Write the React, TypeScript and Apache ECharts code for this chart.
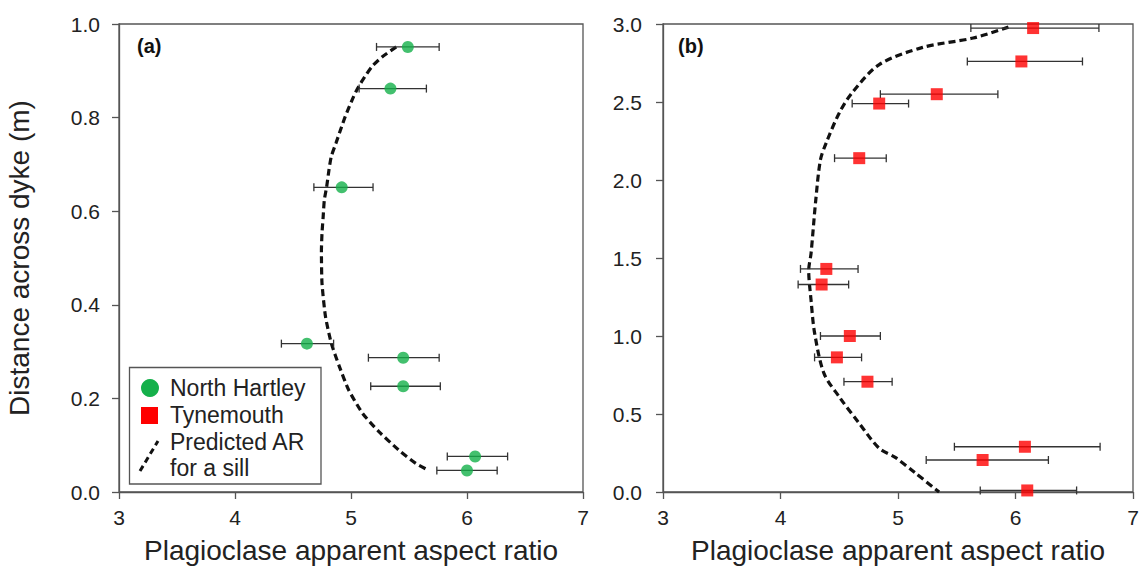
import React, { useEffect, useRef } from "react";
import * as echarts from "echarts";

// Panel (a): North Hartley
const hartleyAR = [5.49, 5.34, 4.92, 4.62, 5.45, 5.45, 6.07, 6.0];
const hartleyDist = [0.951, 0.862, 0.651, 0.317, 0.287, 0.226, 0.076, 0.046];
const hartleyLow = [5.22, 5.07, 4.68, 4.4, 5.15, 5.17, 5.83, 5.74];
const hartleyHigh = [5.76, 5.65, 5.19, 4.85, 5.76, 5.77, 6.35, 6.26];

// Predicted AR curve for panel (a)
const predA_AR = [5.39, 5.27, 5.18, 5.1, 5.05, 5.01, 4.95, 4.91, 4.87, 4.83, 4.81, 4.79, 4.77, 4.76, 4.75, 4.745, 4.75, 4.78, 4.83, 4.9, 4.98, 5.1, 5.24, 5.41, 5.56, 5.67];
const predA_Dist = [0.951, 0.93, 0.909, 0.88, 0.859, 0.838, 0.802, 0.774, 0.745, 0.717, 0.688, 0.652, 0.624, 0.588, 0.553, 0.515, 0.446, 0.375, 0.318, 0.268, 0.218, 0.168, 0.129, 0.09, 0.061, 0.046];

// Panel (b): Tynemouth
const tyneAR = [6.15, 6.05, 5.33, 4.84, 4.67, 4.39, 4.35, 4.59, 4.48, 4.74, 6.08, 5.72, 6.1];
const tyneDist = [2.974, 2.76, 2.55, 2.49, 2.14, 1.43, 1.33, 1.0, 0.863, 0.707, 0.29, 0.205, 0.01];
const tyneLow = [5.62, 5.59, 4.85, 4.61, 4.46, 4.17, 4.15, 4.34, 4.29, 4.54, 5.48, 5.24, 5.7];
const tyneHigh = [6.71, 6.57, 5.85, 5.09, 4.9, 4.66, 4.58, 4.85, 4.69, 4.95, 6.72, 6.28, 6.52];

// Predicted AR curve for panel (b)
const predB_AR = [5.94, 5.64, 5.21, 4.84, 4.61, 4.5, 4.39, 4.34, 4.3, 4.26, 4.24, 4.26, 4.29, 4.37, 4.5, 4.67, 4.84, 4.98, 5.15, 5.35];
const predB_Dist = [2.98, 2.91, 2.85, 2.74, 2.56, 2.43, 2.24, 2.13, 1.87, 1.53, 1.42, 1.23, 1.02, 0.76, 0.61, 0.44, 0.28, 0.22, 0.12, 0.0];

const FONT = "'Liberation Sans', Arial, sans-serif";
const AXIS_COLOR = "#555";
const GREEN = "#14b04a";
const RED = "#ff0000";

const errRender = (params: any, api: any) => {
  const y = api.value(2);
  const p1 = api.coord([api.value(0), y]);
  const p2 = api.coord([api.value(1), y]);
  const cap = 4;
  const style = { stroke: "#333", lineWidth: 1.3 };
  return {
    type: "group",
    children: [
      { type: "line", shape: { x1: p1[0], y1: p1[1], x2: p2[0], y2: p2[1] }, style },
      { type: "line", shape: { x1: p1[0], y1: p1[1] - cap, x2: p1[0], y2: p1[1] + cap }, style },
      { type: "line", shape: { x1: p2[0], y1: p2[1] - cap, x2: p2[0], y2: p2[1] + cap }, style },
    ],
  };
};

const xAxisCommon = (gridIndex: number) => ({
  type: "value",
  gridIndex,
  min: 3,
  max: 7,
  interval: 1,
  name: "Plagioclase apparent aspect ratio",
  nameLocation: "middle",
  nameGap: 44,
  nameTextStyle: { fontSize: 28, color: "#222", fontFamily: FONT },
  axisLine: { show: true, lineStyle: { color: AXIS_COLOR, width: 1.3 } },
  axisTick: { show: true, length: 7, inside: false, lineStyle: { color: AXIS_COLOR, width: 1.3 } },
  axisLabel: { fontSize: 21, color: "#222", margin: 15, fontFamily: FONT },
  splitLine: { show: false },
});

export default function App() {
  const ref = useRef<HTMLDivElement>(null);

  useEffect(() => {
    if (!ref.current) return;
    const chart = echarts.init(ref.current, null, { renderer: "svg" });

    const option: any = {
      animation: false,
      backgroundColor: "#fff",
      textStyle: { fontFamily: FONT },
      grid: [
        { left: 119, top: 24, width: 464, height: 468, show: true, borderColor: AXIS_COLOR, borderWidth: 1.3, backgroundColor: "transparent" },
        { left: 663, top: 24, width: 470, height: 468, show: true, borderColor: AXIS_COLOR, borderWidth: 1.3, backgroundColor: "transparent" },
      ],
      xAxis: [xAxisCommon(0), xAxisCommon(1)],
      yAxis: [
        {
          type: "value",
          gridIndex: 0,
          min: 0,
          max: 1,
          interval: 0.2,
          name: "Distance across dyke (m)",
          nameLocation: "middle",
          nameGap: 86,
          nameRotate: 90,
          nameTextStyle: { fontSize: 28, color: "#222", fontFamily: FONT },
          axisLine: { show: true, lineStyle: { color: AXIS_COLOR, width: 1.3 } },
          axisTick: { show: true, length: 7, lineStyle: { color: AXIS_COLOR, width: 1.3 } },
          axisLabel: { fontSize: 21, color: "#222", margin: 19, fontFamily: FONT, formatter: (v: number) => v.toFixed(1) },
          splitLine: { show: false },
        },
        {
          type: "value",
          gridIndex: 1,
          min: 0,
          max: 3,
          interval: 0.5,
          axisLine: { show: true, lineStyle: { color: AXIS_COLOR, width: 1.3 } },
          axisTick: { show: true, length: 7, lineStyle: { color: AXIS_COLOR, width: 1.3 } },
          axisLabel: { fontSize: 21, color: "#222", margin: 21, fontFamily: FONT, formatter: (v: number) => v.toFixed(1) },
          splitLine: { show: false },
        },
      ],
      series: [
        {
          name: "Predicted AR for a sill",
          type: "line",
          xAxisIndex: 0,
          yAxisIndex: 0,
          data: predA_AR.map((x, i) => [x, predA_Dist[i]]),
          showSymbol: false,
          symbol: "none",
          smooth: 0.2,
          lineStyle: { color: "#111", width: 3.2, type: [7, 4] },
          z: 2,
        },
        {
          name: "Predicted AR for a sill (b)",
          type: "line",
          xAxisIndex: 1,
          yAxisIndex: 1,
          data: predB_AR.map((x, i) => [x, predB_Dist[i]]),
          showSymbol: false,
          symbol: "none",
          smooth: 0.3,
          lineStyle: { color: "#111", width: 3.2, type: [7, 4] },
          z: 2,
        },
        {
          type: "custom",
          xAxisIndex: 0,
          yAxisIndex: 0,
          renderItem: errRender,
          encode: { x: [0, 1], y: 2 },
          data: hartleyLow.map((l, i) => [l, hartleyHigh[i], hartleyDist[i]]),
          z: 3,
        },
        {
          type: "custom",
          xAxisIndex: 1,
          yAxisIndex: 1,
          renderItem: errRender,
          encode: { x: [0, 1], y: 2 },
          data: tyneLow.map((l, i) => [l, tyneHigh[i], tyneDist[i]]),
          z: 3,
        },
        {
          name: "North Hartley",
          type: "scatter",
          xAxisIndex: 0,
          yAxisIndex: 0,
          symbol: "circle",
          symbolSize: 12,
          itemStyle: { color: GREEN },
          data: hartleyAR.map((x, i) => [x, hartleyDist[i]]),
          z: 5,
        },
        {
          name: "Tynemouth",
          type: "scatter",
          xAxisIndex: 1,
          yAxisIndex: 1,
          symbol: "rect",
          symbolSize: 12,
          itemStyle: { color: RED },
          data: tyneAR.map((x, i) => [x, tyneDist[i]]),
          z: 5,
          clip: false,
        },
      ],
      graphic: [
        { type: "text", left: 137, top: 36, style: { text: "(a)", font: `bold 20px ${FONT}`, fill: "#111" } },
        { type: "text", left: 678, top: 36, style: { text: "(b)", font: `bold 20px ${FONT}`, fill: "#111" } },
        {
          type: "rect",
          shape: { x: 129.5, y: 367.5, width: 191.5, height: 116.5 },
          style: { fill: "#fff", stroke: AXIS_COLOR, lineWidth: 1.3 },
          z: 10,
        },
        { type: "circle", shape: { cx: 150, cy: 388, r: 9 }, style: { fill: GREEN }, z: 11 },
        { type: "rect", shape: { x: 141, y: 407, width: 17, height: 17 }, style: { fill: RED }, z: 11 },
        {
          type: "line",
          shape: { x1: 140, y1: 471, x2: 158, y2: 441 },
          style: { stroke: "#111", lineWidth: 3, lineDash: [6, 4] },
          z: 11,
        },
        { type: "text", x: 170, y: 388, style: { text: "North Hartley", font: `23px ${FONT}`, fill: "#222", verticalAlign: "middle" }, z: 11 },
        { type: "text", x: 170, y: 415, style: { text: "Tynemouth", font: `23px ${FONT}`, fill: "#222", verticalAlign: "middle" }, z: 11 },
        { type: "text", x: 170, y: 442, style: { text: "Predicted AR", font: `23px ${FONT}`, fill: "#222", verticalAlign: "middle" }, z: 11 },
        { type: "text", x: 170, y: 468, style: { text: "for a sill", font: `23px ${FONT}`, fill: "#222", verticalAlign: "middle" }, z: 11 },
      ],
    };

    chart.setOption(option);
    return () => chart.dispose();
  }, []);

  return (
    <div
      ref={ref}
      style={{ position: "fixed", left: 0, top: 0, width: 1142, height: 570, background: "#fff" }}
    />
  );
}
